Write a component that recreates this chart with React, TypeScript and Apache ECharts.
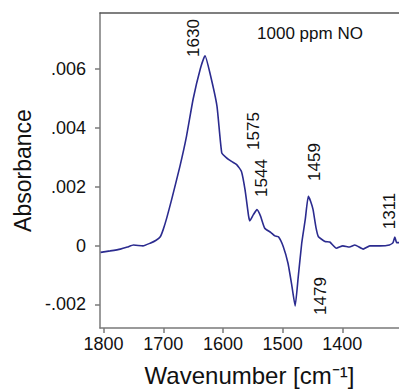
import React, { useEffect, useRef } from "react";
import * as echarts from "echarts";

const wavenumbers = [
  1805, 1789, 1772, 1760, 1750, 1734, 1722, 1712, 1705, 1700, 1694, 1686, 1672, 1661, 1650, 1638,
  1630, 1622, 1610, 1602, 1594, 1585, 1577, 1569, 1563, 1557, 1555, 1549, 1543, 1537, 1530, 1520,
  1513, 1507, 1499, 1491, 1485, 1479, 1474, 1468, 1462, 1457, 1453, 1449, 1444, 1440, 1429, 1421,
  1410, 1399, 1388, 1379, 1365, 1354, 1337, 1321, 1315, 1312, 1309, 1305,
];
const absorbance = [
  -0.00023, -0.00018, -0.00012, -0.00005, 0.00002, -0.00001, 0.00008, 0.00018, 0.0003, 0.00055,
  0.00095, 0.00156, 0.0027, 0.00372, 0.00497, 0.006, 0.00645, 0.00588, 0.00474, 0.00315, 0.00298,
  0.00285, 0.00275, 0.00252, 0.0019, 0.001, 0.00084, 0.00105, 0.00122, 0.001, 0.00059, 0.00045,
  0.00033, 0.0003, -0.00003, -0.0006, -0.0013, -0.00205, -0.0011, 0.00008, 0.0009, 0.00167, 0.0015,
  0.00122, 0.0006, 0.0003, 0.00014, 0.00012, -0.00009, -0.00001, -0.00005, 0.00002, -0.00012,
  -0.00001, -0.00001, 0.00002, 0.0001, 0.00029, 0.0001, 0.0001,
];
const xTicks = [1400, 1500, 1600, 1700, 1800];
const yTicks = [-0.002, 0, 0.002, 0.004, 0.006];
const peakLabels = ["1630", "1575", "1544", "1459", "1479", "1311"];
const peakLabelPos = [
  [193, 38],
  [253, 131],
  [261, 178],
  [314, 162],
  [320, 296],
  [389, 211],
];

const FONT = "Liberation Sans, Arial, sans-serif";

function fmtY(v: number): string {
  if (Math.abs(v) < 1e-12) return "0";
  const s = Math.abs(v).toFixed(3).replace(/^0/, "");
  return (v < 0 ? "-" : "") + s;
}

export default function App() {
  const ref = useRef<HTMLDivElement>(null);
  useEffect(() => {
    if (!ref.current) return;
    const chart = echarts.init(ref.current, undefined, { renderer: "svg" });
    const data = wavenumbers.map((w, i) => [w, absorbance[i]]);
    chart.setOption({
      animation: false,
      grid: {
        left: 100,
        top: 13,
        right: 0,
        bottom: 61,
        containLabel: false,
        outerBoundsMode: "none",
      },
      xAxis: [
        {
          type: "value",
          min: 1305,
          max: 1806,
          inverse: true,
          axisLine: { show: true, onZero: false, lineStyle: { color: "#7a7a7a", width: 1.5 } },
          axisTick: {
            show: true,
            inside: false,
            length: 5,
            customValues: xTicks,
            lineStyle: { color: "#7a7a7a", width: 1.5 },
          },
          axisLabel: {
            customValues: xTicks,
            margin: 7,
            fontSize: 18,
            color: "#111",
            fontFamily: FONT,
            formatter: (v: number) => String(v),
          },
          splitLine: { show: false },
          name: "Wavenumber [cm⁻¹]",
          nameLocation: "middle",
          nameGap: 35,
          nameTextStyle: { fontSize: 24, color: "#111", fontFamily: FONT },
        },
        {
          type: "value",
          position: "top",
          min: 1305,
          max: 1806,
          inverse: true,
          axisLine: { show: true, onZero: false, lineStyle: { color: "#555", width: 1.5 } },
          axisTick: { show: false },
          axisLabel: { show: false },
          splitLine: { show: false },
        },
      ],
      yAxis: {
        type: "value",
        min: -0.0028,
        max: 0.0079,
        axisLine: { show: true, onZero: false, lineStyle: { color: "#7a7a7a", width: 1.5 } },
        axisTick: {
          show: true,
          inside: false,
          length: 5,
          customValues: yTicks,
          lineStyle: { color: "#7a7a7a", width: 1.5 },
        },
        axisLabel: {
          customValues: yTicks,
          margin: 14,
          fontSize: 18,
          color: "#111",
          fontFamily: FONT,
          formatter: (v: number) => fmtY(v),
        },
        splitLine: { show: false },
        name: "Absorbance",
        nameLocation: "middle",
        nameGap: 66,
        nameTextStyle: { fontSize: 23, color: "#111", fontFamily: FONT },
      },
      series: [
        {
          type: "line",
          data,
          showSymbol: false,
          smooth: 0.15,
          lineStyle: { color: "#2b2b8f", width: 1.6 },
          xAxisIndex: 0,
        },
      ],
      graphic: [
        {
          type: "text",
          x: 310,
          y: 33,
          style: {
            text: "1000 ppm NO",
            fontSize: 17,
            fontFamily: FONT,
            fill: "#111",
            align: "center",
            verticalAlign: "middle",
          },
        },
        ...peakLabels.map((t, i) => ({
          type: "text",
          x: peakLabelPos[i][0],
          y: peakLabelPos[i][1],
          rotation: Math.PI / 2,
          style: {
            text: t,
            fontSize: 17,
            fontFamily: FONT,
            fill: "#111",
            align: "center",
            verticalAlign: "middle",
          },
        })),
      ],
    });
    return () => chart.dispose();
  }, []);
  return (
    <div
      ref={ref}
      style={{ position: "fixed", left: 0, top: 0, width: 399, height: 389, background: "#fff" }}
    />
  );
}
